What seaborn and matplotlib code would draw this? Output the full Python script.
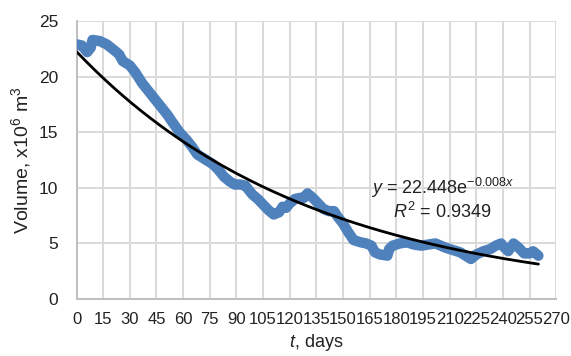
import numpy as np
import pandas as pd
import matplotlib
matplotlib.use("Agg")
import matplotlib.pyplot as plt
import seaborn as sns

# ---- data ----
t_days = [0, 3, 6, 8, 9, 13, 17, 21, 24, 26, 30, 33, 37, 40, 44, 47, 51, 54, 58, 62,
          65, 68, 72, 77, 80, 83, 86, 89, 92, 95, 99, 102, 105, 108, 111, 114, 116,
          118, 120, 123, 126, 128, 130, 133, 136, 139, 142, 145, 147, 150, 153, 156,
          160, 163, 166, 168, 171, 175, 176, 178, 182, 186, 190, 194, 198, 202, 205,
          208, 212, 216, 219, 222, 225, 229, 233, 236, 239, 241, 243, 246, 249, 252,
          255, 257, 260]
volume = [22.9, 22.8, 22.2, 22.6, 23.3, 23.2, 22.9, 22.4, 22.0, 21.4, 21.0, 20.4, 19.4,
          18.8, 18.0, 17.4, 16.6, 15.9, 15.0, 14.3, 13.7, 13.0, 12.6, 12.1, 11.6, 11.0,
          10.6, 10.3, 10.3, 10.2, 9.4, 9.0, 8.5, 8.0, 7.6, 7.8, 8.3, 8.2, 8.6, 9.0, 9.1,
          9.1, 9.5, 9.1, 8.6, 8.1, 7.9, 7.9, 7.4, 6.8, 6.0, 5.3, 5.1, 5.0, 4.8, 4.2, 4.0,
          3.9, 4.5, 4.8, 5.0, 5.1, 4.9, 4.8, 4.9, 5.0, 4.8, 4.6, 4.4, 4.2, 3.9, 3.6, 4.0,
          4.3, 4.5, 4.8, 5.0, 4.6, 4.3, 5.0, 4.6, 4.1, 4.1, 4.3, 3.9]
x_ticks = list(range(0, 271, 15))
y_ticks = [0, 5, 10, 15, 20, 25]
eq_label = "$\\mathit{y}$ = 22.448e$^{\\mathregular{\u22120.008}\\mathit{x}}$"
r2_label = "$\\mathit{R}^{\\mathregular{2}}$ = 0.9349"

df = pd.DataFrame({"t": t_days, "V": volume})

# exponential trendline (least squares on log, as Excel does)
b, ln_a = np.polyfit(df["t"], np.log(df["V"]), 1)
t_fit = np.linspace(min(t_days), max(t_days), 200)
trend = pd.DataFrame({"t": t_fit, "V": np.exp(ln_a) * np.exp(b * t_fit)})

sns.set_theme(style="white")
plt.rcParams["font.family"] = ["Liberation Sans", "DejaVu Sans"]
plt.rcParams["mathtext.fontset"] = "custom"
plt.rcParams["mathtext.rm"] = "Liberation Sans"
plt.rcParams["mathtext.it"] = "Liberation Sans:italic"

fig = plt.figure(figsize=(5.71, 3.56), dpi=100)
ax = fig.add_axes([0.134, 0.160, 0.840, 0.781])

sns.lineplot(data=df, x="t", y="V", ax=ax, color="#4F81BD", linewidth=7.5,
             solid_capstyle="round", solid_joinstyle="round", zorder=3)
sns.lineplot(data=trend, x="t", y="V", ax=ax, color="black", linewidth=2, zorder=4)

ax.set_xlim(0, 270)
ax.set_ylim(0, 25)
ax.set_xticks(x_ticks)
ax.set_yticks(y_ticks)
ax.set_xticklabels([str(v) for v in x_ticks], fontsize=12, color="#222222")
ax.set_yticklabels([str(v) for v in y_ticks], fontsize=12.5, color="#222222")
ax.tick_params(axis="x", length=0, pad=9)
ax.tick_params(axis="y", length=0, pad=13)
ax.grid(True, color="#D9D9D9", linewidth=1.4)
ax.set_axisbelow(True)
for s in ["top", "right"]:
    ax.spines[s].set_visible(False)
for s in ["left", "bottom"]:
    ax.spines[s].set_color("#BFBFBF")
    ax.spines[s].set_linewidth(1.4)

ax.set_xlabel("$\\mathit{t}$, days", fontsize=13, color="#222222", labelpad=4)
ax.set_ylabel("Volume, x10$^{\\mathregular{6}}$ m$^{\\mathregular{3}}$", fontsize=14,
              color="#222222", labelpad=4)

ax.text(206, 9.95, eq_label, fontsize=13, ha="center", va="center", color="#222222", zorder=5)
ax.text(206, 7.85, r2_label, fontsize=13, ha="center", va="center", color="#222222", zorder=5)

fig.savefig("out.png", dpi=100)
